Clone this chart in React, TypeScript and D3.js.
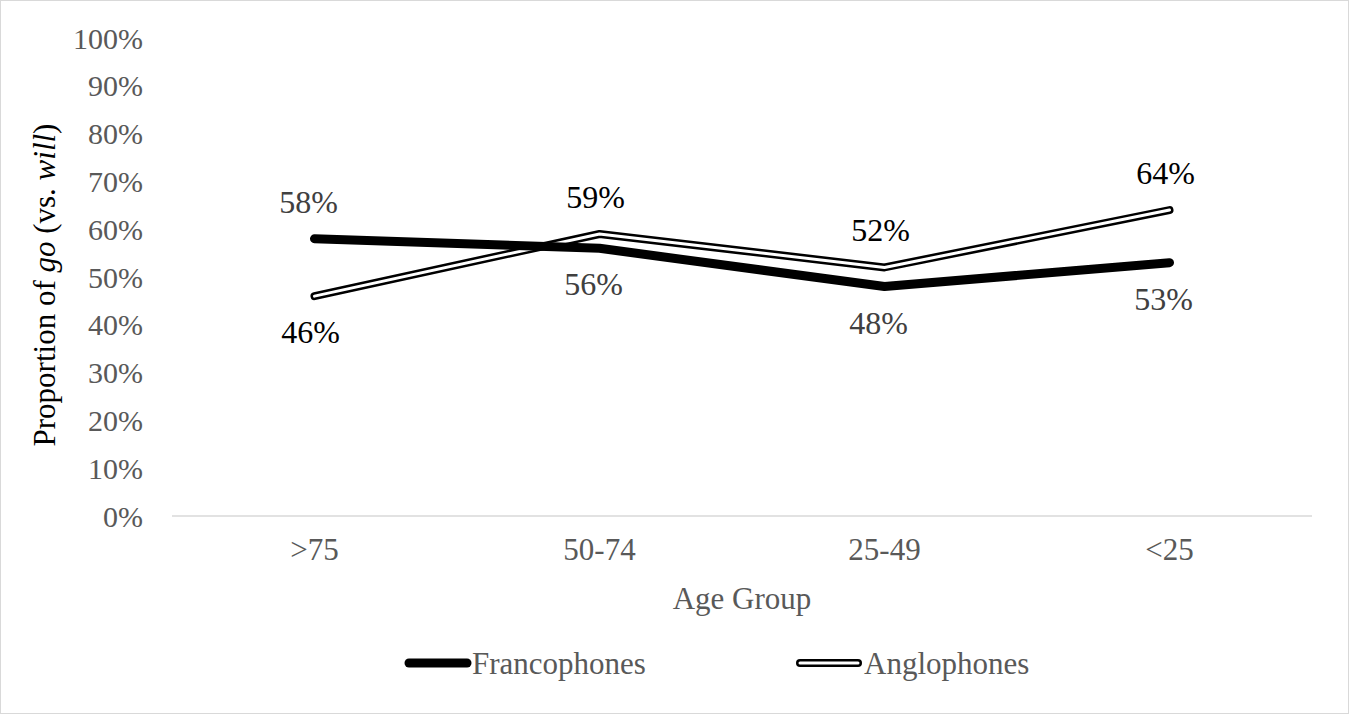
import * as d3 from "d3";

const categories = [">75", "50-74", "25-49", "<25"];
const francophones = [0.58, 0.56, 0.48, 0.53];
const anglophones = [0.46, 0.59, 0.52, 0.64];
// Excel-style label position per point
const francoLabelPos = ["above", "below", "below", "below"];
const angloLabelPos = ["below", "above", "above", "above"];
const yTicks = [0, 0.1, 0.2, 0.3, 0.4, 0.5, 0.6, 0.7, 0.8, 0.9, 1];

const W = 1349;
const H = 714;
const FONT = "'Liberation Serif', 'Times New Roman', serif";

export default function App() {
  const x = d3.scaleBand<string>().domain(categories).range([172, 1312]);
  const y = d3.scaleLinear().domain([0, 1]).range([516, 38]);
  const cx = (c: string) => (x(c) ?? 0) + x.bandwidth() / 2;

  const line = d3
    .line<number>()
    .x((_, i) => cx(categories[i]))
    .y((d) => y(d));

  const fmt = d3.format(".0%");

  const labelY = (v: number, pos: string) =>
    pos === "above" ? y(v) - 26 : y(v) + 47;

  return (
    <div style={{ position: "absolute", left: 0, top: 0 }}>
      <svg width={W} height={H} style={{ display: "block", fontFamily: FONT }}>
        <rect x={0.5} y={0.5} width={W - 1} height={H - 1} fill="#fff" stroke="#d9d9d9" />

        {/* y tick labels */}
        {yTicks.map((t) => (
          <text
            key={t}
            x={143}
            y={y(t)}
            dy="0.35em"
            textAnchor="end"
            fontSize={30}
            fill="#595959"
          >
            {fmt(t)}
          </text>
        ))}

        {/* x baseline */}
        <line x1={172} x2={1312} y1={y(0)} y2={y(0)} stroke="#d9d9d9" strokeWidth={1.5} />

        {/* x tick labels */}
        {categories.map((c) => (
          <text key={c} x={cx(c)} y={560} textAnchor="middle" fontSize={31} fill="#595959">
            {c}
          </text>
        ))}

        {/* axis titles */}
        <text x={742} y={609} textAnchor="middle" fontSize={31} fill="#595959">
          Age Group
        </text>
        <text
          transform={`translate(55,${(y(0) + y(1)) / 2 + 8}) rotate(-90)`}
          textAnchor="middle"
          fontSize={31}
          fill="#000"
        >
          Proportion of <tspan fontStyle="italic">go</tspan> (vs. <tspan fontStyle="italic">will</tspan>)
        </text>

        {/* Anglophones: double line */}
        <path d={line(anglophones) ?? ""} fill="none" stroke="#000" strokeWidth={8} strokeLinecap="round" strokeLinejoin="round" />
        <path d={line(anglophones) ?? ""} fill="none" stroke="#fff" strokeWidth={3} strokeLinecap="round" strokeLinejoin="round" />

        {/* Francophones: thick line */}
        <path d={line(francophones) ?? ""} fill="none" stroke="#000" strokeWidth={9} strokeLinecap="round" strokeLinejoin="round" />

        {/* data labels */}
        {francophones.map((v, i) => (
          <text key={"f" + i} x={cx(categories[i]) - 6} y={labelY(v, francoLabelPos[i])} textAnchor="middle" fontSize={32} fill="#404040">
            {fmt(v)}
          </text>
        ))}
        {anglophones.map((v, i) => (
          <text key={"a" + i} x={cx(categories[i]) - 4} y={labelY(v, angloLabelPos[i])} textAnchor="middle" fontSize={32} fill="#000">
            {fmt(v)}
          </text>
        ))}

        {/* legend */}
        <line x1={409} x2={467} y1={663} y2={663} stroke="#000" strokeWidth={9} strokeLinecap="round" />
        <text x={472} y={674} fontSize={31} fill="#595959">Francophones</text>
        <line x1={800} x2={858} y1={663} y2={663} stroke="#000" strokeWidth={8} strokeLinecap="round" />
        <line x1={800} x2={858} y1={663} y2={663} stroke="#fff" strokeWidth={3} strokeLinecap="round" />
        <text x={864} y={674} fontSize={31} fill="#595959">Anglophones</text>
      </svg>
    </div>
  );
}
